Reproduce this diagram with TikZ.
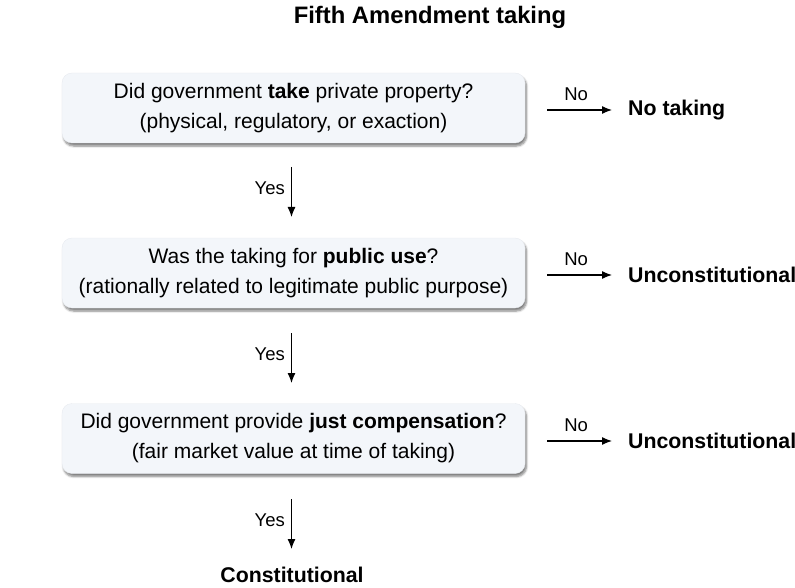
\documentclass[tikz,border=0pt]{standalone}
\usepackage{fontspec}
\setmainfont{Liberation Sans}
\usetikzlibrary{arrows.meta,shadows.blur}
\definecolor{boxfill}{HTML}{F3F6FA}
\definecolor{boxline}{HTML}{E8EBF0}
\begin{document}
\begin{tikzpicture}[x=1pt,y=-1pt,
  question/.style={rounded corners=10pt, fill=boxfill, draw=boxline, line width=0.4pt,
    minimum width=463pt, minimum height=70pt, align=center, inner sep=0pt,
    font=\fontsize{21}{30}\selectfont,
    blur shadow={shadow xshift=1.5pt, shadow yshift=-3pt, shadow blur steps=6, shadow opacity=50}},
  outcome/.style={font=\fontsize{21.3}{25}\selectfont\bfseries, inner sep=0pt},
  flow/.style={line width=1.2pt, -{Latex[length=10pt,width=8pt]}},
  branch/.style={font=\fontsize{18.5}{22}\selectfont, inner sep=0pt}]
\useasboundingbox (0,0) rectangle (795,588);

\node[font=\fontsize{23.8}{28}\selectfont\bfseries] (title) at (430,17) {Fifth Amendment taking};

\node[question] (q1) at (293.5,108) {Did government \textbf{take} private property?\\(physical, regulatory, or exaction)};
\node[question] (q2) at (293.5,273) {Was the taking for \textbf{public use}?\\(rationally related to legitimate public purpose)};
\node[question] (q3) at (293.5,438.5) {Did government provide \textbf{just compensation}?\\(fair market value at time of taking)};

\node[outcome, anchor=west] (o1) at (628,110) {No taking};
\node[outcome, anchor=west] (o2) at (628,275) {Unconstitutional};
\node[outcome, anchor=west] (o3) at (628,441) {Unconstitutional};
\node[outcome] (done) at (292,575) {Constitutional};

% "No" branches to the right
\coordinate (n1) at (547,110);
\coordinate (n2) at (547,275);
\coordinate (n3) at (547,441);
\draw[flow, shorten >=16pt] (n1) -- node[branch, above=9pt, pos=0.36] {No} (o1.west);
\draw[flow, shorten >=16pt] (n2) -- node[branch, above=9pt, pos=0.36] {No} (o2.west);
\draw[flow, shorten >=16pt] (n3) -- node[branch, above=9pt, pos=0.36] {No} (o3.west);

% "Yes" branches downward
\coordinate (y1a) at (291.5,167);
\coordinate (y1b) at (291.5,217);
\coordinate (y2a) at (291.5,333);
\coordinate (y2b) at (291.5,383);
\coordinate (y3a) at (291.5,499);
\coordinate (y3b) at (291.5,549);
\draw[flow] (y1a) -- node[branch, left=6pt, pos=0.42] {Yes} (y1b);
\draw[flow] (y2a) -- node[branch, left=6pt, pos=0.42] {Yes} (y2b);
\draw[flow] (y3a) -- node[branch, left=6pt, pos=0.42] {Yes} (y3b);
\end{tikzpicture}
\end{document}
